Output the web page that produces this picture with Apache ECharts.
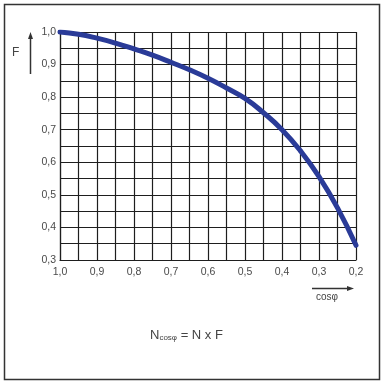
<!DOCTYPE html>
<html><head><meta charset="utf-8">
<script src="https://cdn.jsdelivr.net/npm/echarts@6/dist/echarts.min.js"></script>
<style>html,body{margin:0;padding:0;background:#fff}#c{width:385px;height:383px}</style>
</head><body><div id="c"></div>
<script>
const cosPhi  = [1.0, 0.95, 0.9, 0.85, 0.8, 0.75, 0.7, 0.65, 0.6, 0.55, 0.5, 0.45, 0.4, 0.35, 0.3, 0.25, 0.2];
const factorF = [1.0, 0.993, 0.981, 0.966, 0.948, 0.929, 0.907, 0.884, 0.858, 0.828, 0.796, 0.752, 0.70, 0.635, 0.556, 0.46, 0.345];
const yAxisName = 'F';
const xAxisName = 'cosφ';

const chart = echarts.init(document.getElementById('c'));
const fmt = v => v.toFixed(1).replace('.', ',');
const gridCol = '#1e1e1e';
chart.setOption({
  animation: false,
  backgroundColor: '#fff',
  grid: { left: 60, top: 32, right: 29, bottom: 123 },
  xAxis: {
    type: 'value', inverse: true, min: 0.2, max: 1.0, interval: 0.1,
    axisLine: { show: true, lineStyle: { color: gridCol, width: 1.2 } },
    axisTick: { show: false },
    minorTick: { show: false, splitNumber: 2 },
    splitLine: { show: true, lineStyle: { color: gridCol, width: 1.2 } },
    minorSplitLine: { show: true, lineStyle: { color: gridCol, width: 1.2 } },
    axisLabel: { formatter: fmt, color: '#4a4a4a', fontSize: 10.5, fontFamily: 'Liberation Sans', margin: 7 }
  },
  yAxis: {
    type: 'value', min: 0.3, max: 1.0, interval: 0.1,
    axisLine: { show: true, lineStyle: { color: gridCol, width: 1.2 } },
    axisTick: { show: false },
    minorTick: { show: false, splitNumber: 2 },
    splitLine: { show: true, lineStyle: { color: gridCol, width: 1.2 } },
    minorSplitLine: { show: true, lineStyle: { color: gridCol, width: 1.2 } },
    axisLabel: { formatter: fmt, color: '#4a4a4a', fontSize: 10.5, fontFamily: 'Liberation Sans', margin: 4 }
  },
  series: [{
    type: 'line', smooth: true, symbol: 'none',
    data: cosPhi.map((c, i) => [c, factorF[i]]),
    lineStyle: { color: '#2a3b98', width: 5, cap: 'round' }
  }],
  graphic: [
    { type: 'rect', shape: { x: 4.5, y: 4.5, width: 375, height: 375 }, style: { fill: 'none', stroke: '#333', lineWidth: 1.5 }, z: -1 },
    { type: 'text', left: 12, top: 47, style: { text: yAxisName, fill: '#444', fontSize: 12, fontFamily: 'Liberation Sans' } },
    { type: 'line', shape: { x1: 30.5, y1: 74, x2: 30.5, y2: 38 }, style: { stroke: '#333', lineWidth: 1.5 } },
    { type: 'polygon', shape: { points: [[30.5, 32], [28, 39], [33, 39]] }, style: { fill: '#333' } },
    { type: 'line', shape: { x1: 312, y1: 288.5, x2: 348, y2: 288.5 }, style: { stroke: '#333', lineWidth: 1.5 } },
    { type: 'polygon', shape: { points: [[354, 288.5], [347, 286], [347, 291]] }, style: { fill: '#333' } },
    { type: 'text', left: 316, top: 292, style: { text: xAxisName, fill: '#444', fontSize: 10, fontFamily: 'Liberation Sans' } },
    { type: 'text', left: 150, top: 329, style: {
        text: '{a|N}{b|cosφ}{a| = N x F}',
        rich: {
          a: { fontSize: 13, fill: '#444', fontFamily: 'Liberation Sans' },
          b: { fontSize: 8, fill: '#444', fontFamily: 'Liberation Sans', verticalAlign: 'bottom', padding: [5, 0, 0, 0] }
        }
    } }
  ]
});
</script>
</body></html>
